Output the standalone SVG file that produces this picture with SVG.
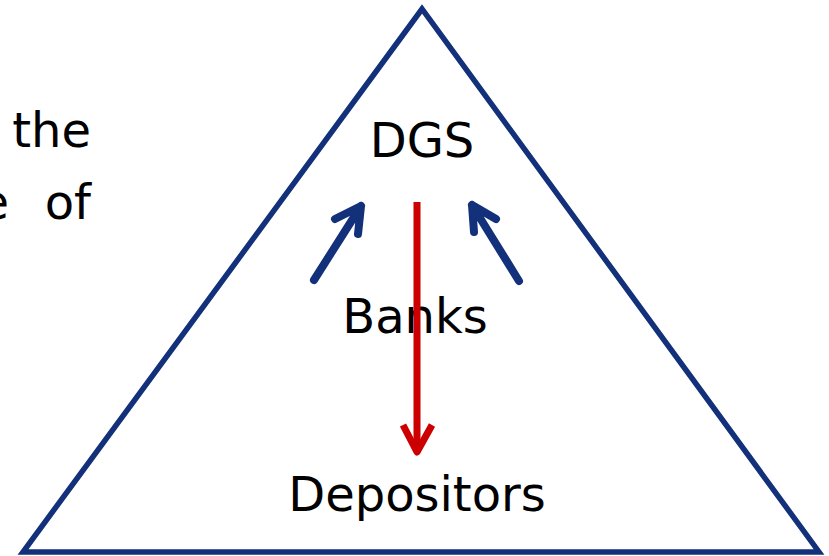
<svg xmlns="http://www.w3.org/2000/svg" width="829" height="556" viewBox="0 0 829 556">
<style>
.t{font-family:"DejaVu Sans","Verdana",sans-serif;font-size:48px;fill:#000}
.b{stroke:#12317a;fill:none;stroke-width:8;stroke-linecap:round;stroke-linejoin:round}
.r{stroke:#cc0000;fill:none;stroke-width:7;stroke-linecap:butt;stroke-linejoin:round}
</style>
<rect width="829" height="556" fill="#fff"/>
<g id="side-text">
<text class="t" x="91" y="147" text-anchor="end">the</text>
<text class="t" x="9" y="219" text-anchor="end">e</text>
<text class="t" x="91" y="219" text-anchor="end">of</text>
</g>
<g id="triangle">
<polygon points="422,9 23,552 819,552" fill="none" stroke="#12317a" stroke-width="5.5"/>
</g>
<g id="dgs"><text class="t" x="422" y="157" text-anchor="middle">DGS</text></g>
<g id="banks"><text class="t" x="415" y="333" text-anchor="middle">Banks</text></g>
<g id="depositors"><text class="t" x="417" y="511" text-anchor="middle">Depositors</text></g>
<g id="connectors">
<path class="b" d="M314,280 L361,206 M335,219 L361,206 L358,234"/>
<path class="b" d="M519,281 L472,205 M496,219 L472,205 L474,232"/>
<path class="r" d="M417,202 L417,452"/>
<path class="r" d="M403,425 L417,452 L432,425" stroke-linecap="round"/>
</g>
</svg>
